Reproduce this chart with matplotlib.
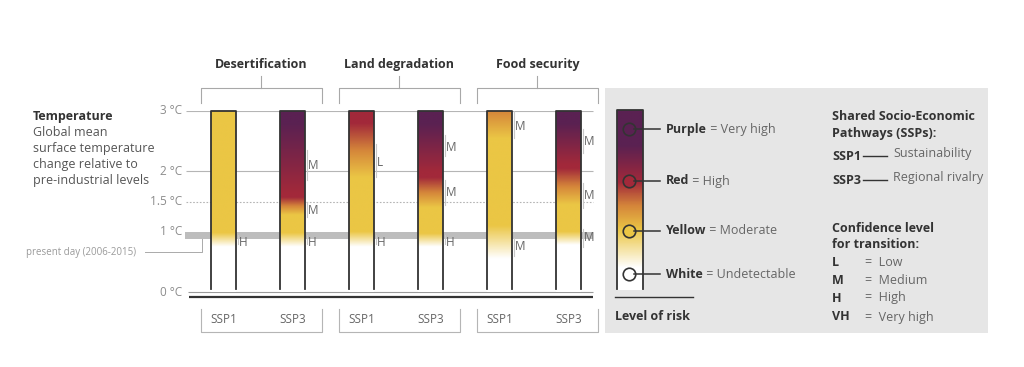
import numpy as np
import matplotlib.pyplot as plt
from matplotlib.colors import LinearSegmentedColormap

plt.rcParams['font.family'] = ['Open Sans', 'DejaVu Sans']

# ---- data ----
categories = ['Desertification', 'Land degradation', 'Food security']
scenarios = ['SSP1', 'SSP3']
temp_ticks = [0, 1, 1.5, 2, 3]
temp_labels = ['0 °C', '1 °C', '1.5 °C', '2 °C', '3 °C']
present_day = (0.88, 1.0)

# risk level along temperature (0 white, 1 yellow, 2 red, 3 purple), one list per bar
risk_temps = [
    [0.75, 0.98],
    [0.75, 0.98, 1.28, 1.57, 1.65, 2.8],
    [0.75, 1.0, 1.9, 2.8],
    [0.75, 0.97, 1.4, 1.9, 2.0, 2.8],
    [0.55, 1.1, 2.55, 3.0],
    [0.78, 1.0, 1.45, 2.05, 2.12, 2.8],
]
risk_levels = [
    [0, 1],
    [0, 1, 1, 2, 2, 3],
    [0, 1, 1, 2],
    [0, 1, 1, 2, 2, 3],
    [0, 1, 1, 1.5],
    [0, 1, 1, 2, 2, 3],
]
# confidence for each transition: letter, label temperature, bracket range
conf_letters = [
    ['H'],
    ['M', 'M', 'H'],
    ['L', 'H'],
    ['M', 'M', 'H'],
    ['M', 'M'],
    ['M', 'M', 'M'],
]
conf_temps = [
    [0.82],
    [2.1, 1.35, 0.82],
    [2.15, 0.82],
    [2.4, 1.65, 0.82],
    [2.75, 0.75],
    [2.5, 1.6, 0.9],
]
conf_ranges = [
    [(0.8, 0.95)],
    [(1.85, 2.35), (1.25, 1.5), (0.8, 0.95)],
    [(1.9, 2.45), (0.8, 0.95)],
    [(2.25, 2.6), (1.45, 1.85), (0.8, 0.95)],
    [(2.55, 3.0), (0.6, 0.9)],
    [(2.3, 2.7), (1.4, 1.8), (0.75, 1.05)],
]

legend_names = ['Purple', 'Red', 'Yellow', 'White']
legend_desc = ['Very high', 'High', 'Moderate', 'Undetectable']
legend_levels = [3, 2, 1, 0]
conf_keys = ['L', 'M', 'H', 'VH']
conf_words = ['Low', 'Medium', 'High', 'Very high']

# colour scale for risk
risk_cmap = LinearSegmentedColormap.from_list(
    'risk', [(0, '#FFFFFF'), (1 / 3, '#EBC645'), (0.5, '#D5863A'),
             (2 / 3, '#A2293A'), (1, '#5A2152')])

dark = '#333333'
grey_txt = '#666666'
line_grey = '#B5B5B5'

fig = plt.figure(figsize=(10.24, 3.67), dpi=100)

# ---- main chart ----
ax = fig.add_axes([185 / 1024, 75 / 367, 411 / 1024, 181 / 367])
ax.set_xlim(-0.558, 5.4)
ax.set_ylim(0, 3)
ax.axis('off')

bar_x = np.arange(6)
bar_w = 0.36
xl, xr = -0.55, 5.35

ax.hlines([3, 2], xl, xr, color=line_grey, lw=0.8, zorder=1)
ax.hlines(1.5, xl, xr, color=line_grey, lw=0.8, linestyles=(0, (1.5, 1.5)), zorder=1)
ax.axhspan(present_day[0], present_day[1], xmin=0, xmax=(xr - ax.get_xlim()[0]) / np.ptp(ax.get_xlim()),
           color='#BDBDBD', lw=0, zorder=1)
ax.hlines(0, xl + 0.03, xr, color='#9A9A9A', lw=0.8, zorder=1, clip_on=False)
ax.hlines(-0.085, xl + 0.05, xr, color=dark, lw=1.6, zorder=1, clip_on=False)

for t, lab in zip(temp_ticks, temp_labels):
    ax.text(-0.6, t, lab, ha='right', va='center', fontsize=8.5, color='#8C8C8C')

# present day leader line
ax.plot([-1.14, -0.31, -0.31], [0.66, 0.66, present_day[0]], color='#AAAAAA', lw=0.7,
        clip_on=False)
ax.text(-1.27, 0.66, 'present day (2006-2015)', ha='right', va='center', fontsize=7,
        color='#9A9A9A')

temp_grid = np.linspace(0, 3, 400)
for i, x in enumerate(bar_x):
    levels = np.interp(temp_grid, risk_temps[i], risk_levels[i])
    img = risk_cmap(levels / 3)[:, None, :]
    ax.imshow(img, extent=[x - bar_w / 2, x + bar_w / 2, 0, 3], origin='lower',
              aspect='auto', interpolation='bilinear', zorder=2)
    ax.plot([x - bar_w / 2, x - bar_w / 2, x + bar_w / 2, x + bar_w / 2],
            [0.05, 3, 3, 0.05], color=dark, lw=1.3, zorder=3, clip_on=False)
    for letter, tc, (lo, hi) in zip(conf_letters[i], conf_temps[i], conf_ranges[i]):
        ax.plot([x + bar_w / 2 + 0.025] * 2, [lo, hi], color='#C8C8C8', lw=0.8, zorder=3)
        ax.text(x + bar_w / 2 + 0.04, tc, letter, ha='left', va='center', fontsize=8.5,
                color=grey_txt, zorder=4)

ax.set_xlim(-0.558, 5.4)
ax.set_ylim(0, 3)

# group brackets and scenario boxes
for g, name in enumerate(categories):
    left = bar_x[2 * g] - 0.33
    right = bar_x[2 * g + 1] + 0.43
    mid = (left + right) / 2
    ax.plot([left, left, right, right], [3.13, 3.38, 3.38, 3.13], color='#A8A8A8', lw=0.8,
            clip_on=False)
    ax.plot([mid, mid], [3.38, 3.58], color='#A8A8A8', lw=0.8, clip_on=False)
    ax.text(mid, 3.77, name, ha='center', va='center', fontsize=9, fontweight='bold',
            color=dark)
    ax.plot([left, left, right, right], [-0.28, -0.66, -0.66, -0.28], color='#B5B5B5', lw=0.8,
            clip_on=False)
    for k, s in enumerate(scenarios):
        ax.text(bar_x[2 * g + k], -0.46, s, ha='center', va='center', fontsize=8.5,
                color=grey_txt)

# left description
fig.text(33 / 1024, 1 - 117 / 367, 'Temperature', fontsize=9, fontweight='bold', color=dark,
         va='center')
for j, line in enumerate(['Global mean', 'surface temperature', 'change relative to',
                          'pre-industrial levels']):
    fig.text(33 / 1024, 1 - (133 + 15.8 * j) / 367, line, fontsize=9, color='#555555',
             va='center')

# ---- legend panel ----
ax2 = fig.add_axes([605 / 1024, 1 - 333 / 367, 383 / 1024, 245 / 367])
ax2.set_xlim(605, 988)
ax2.set_ylim(333, 88)
ax2.set_facecolor('#E6E6E6')
ax2.set_xticks([])
ax2.set_yticks([])
for sp in ax2.spines.values():
    sp.set_visible(False)

leg_y = np.linspace(110, 290, 300)
leg_lv = np.interp(leg_y, [110, 145, 182, 230, 268], [3, 3, 2, 1, 0])
ax2.imshow(risk_cmap(leg_lv / 3)[:, None, :], extent=[617, 643, 290, 110], origin='upper',
           aspect='auto', interpolation='bilinear')
ax2.plot([617, 617, 643, 643], [289, 110, 110, 289], color=dark, lw=1.3)
ax2.set_xlim(605, 988)
ax2.set_ylim(333, 88)

circle_y = [129, 181, 231, 274]
for cy, nm, desc, lv in zip(circle_y, legend_names, legend_desc, legend_levels):
    ax2.plot(629, cy, 'o', ms=9, mfc=risk_cmap(lv / 3), mec=dark, mew=1.2)
    ax2.plot([634, 660], [cy, cy], color=dark, lw=1.1)
    t = ax2.text(666, cy, nm, fontsize=9, fontweight='bold', color=dark, va='center')
    ax2.annotate(' = ' + desc, xy=(1, 0), xycoords=t, fontsize=9, color=grey_txt,
                 ha='left', va='bottom')

ax2.plot([615, 693], [297, 297], color=dark, lw=1.0)
ax2.text(615, 317, 'Level of risk', fontsize=9, fontweight='bold', color=dark, va='center')

ax2.text(832, 117, 'Shared Socio-Economic', fontsize=9, fontweight='bold', color=dark,
         va='center')
ax2.text(832, 133, 'Pathways (SSPs):', fontsize=9, fontweight='bold', color=dark, va='center')
for sy, s, w in zip([156, 180], scenarios, ['Sustainability', 'Regional rivalry']):
    ax2.text(832, sy, s, fontsize=9, fontweight='bold', color=dark, va='center')
    ax2.plot([863, 887], [sy, sy], color=dark, lw=1.0)
    ax2.text(893, sy - 2, w, fontsize=9, color=grey_txt, va='center')

ax2.text(832, 228, 'Confidence level', fontsize=9, fontweight='bold', color=dark, va='center')
ax2.text(832, 244, 'for transition:', fontsize=9, fontweight='bold', color=dark, va='center')
for cy, key, word in zip([262, 280, 298, 317], conf_keys, conf_words):
    ax2.text(832, cy, key, fontsize=9, fontweight='bold', color=dark, va='center')
    ax2.text(865, cy, '=  ' + word, fontsize=9, color=grey_txt, va='center')

fig.savefig('out.png', dpi=100, facecolor='white')
